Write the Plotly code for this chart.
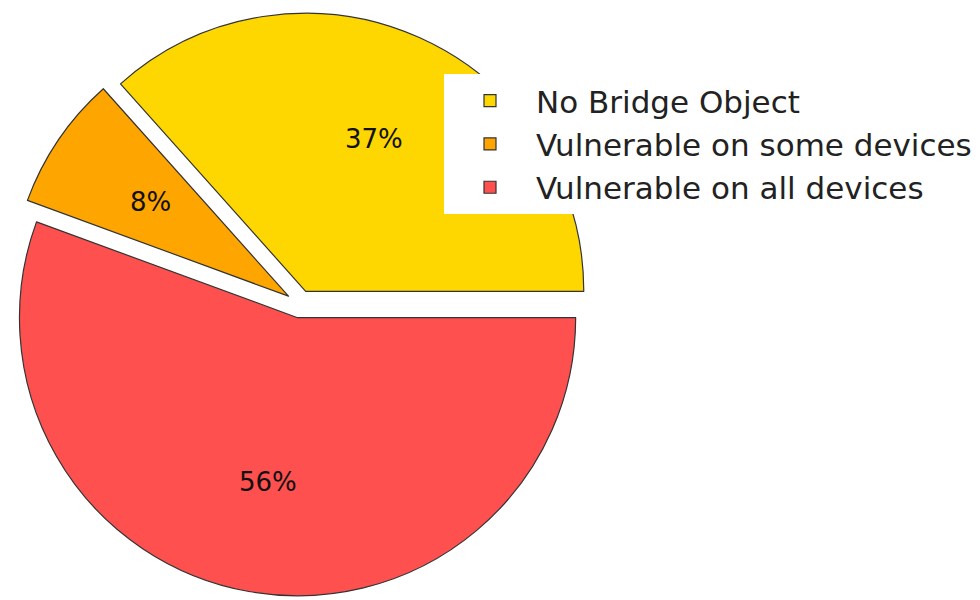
import math
import plotly.graph_objects as go

labels = ["No Bridge Object", "Vulnerable on some devices", "Vulnerable on all devices"]
values = [36.6, 7.8, 55.6]
colors = ["#FFD700", "#FFA500", "#FF5050"]
pulls = [0.05, 0.05, 0.05]

W, H = 980, 600
M = dict(l=0, r=0, t=0, b=0)
dom_x = [0, 584 / 980]
dom_y = [12 / 600, 596 / 600]
FONT = "DejaVu Sans"

total = sum(values)
rotation = 90 - 360 * values[0] / total  # first slice starts at 3 o'clock

fig = go.Figure(
    go.Pie(
        labels=labels,
        values=values,
        sort=False,
        direction="counterclockwise",
        rotation=rotation,
        pull=pulls,
        marker=dict(colors=colors, line=dict(color="#333333", width=1.2)),
        textinfo="none",
        domain=dict(x=dom_x, y=dom_y),
        hoverinfo="label+percent",
    )
)

# percentage labels placed at 0.6 of the radius (computed from the data)
pw = W - M["l"] - M["r"]
ph = H - M["t"] - M["b"]
r_px = min(pw * (dom_x[1] - dom_x[0]), ph * (dom_y[1] - dom_y[0])) / (2 + 2 * max(pulls))
cx = (dom_x[0] + dom_x[1]) / 2 * pw
cy = (1 - (dom_y[0] + dom_y[1]) / 2) * ph
ang = 0.0
annotations = []
for v, p in zip(values, pulls):
    span = 360 * v / total
    mid = math.radians(ang + span / 2)
    d = (p + 0.6) * r_px
    x = cx + d * math.cos(mid)
    y = cy - d * math.sin(mid)
    annotations.append(dict(
        x=x / pw, y=1 - y / ph, xref="paper", yref="paper",
        text=f"{round(100 * v / total)}%", showarrow=False,
        font=dict(family=FONT, size=26, color="#111111"),
        xanchor="center", yanchor="middle",
    ))
    ang += span

fig.update_layout(
    width=W, height=H,
    margin=M,
    paper_bgcolor="white",
    plot_bgcolor="white",
    font=dict(family=FONT),
    annotations=annotations,
    showlegend=True,
    legend=dict(
        x=436 / 980, y=1 - 66 / 600,
        xanchor="left", yanchor="top",
        bgcolor="white", borderwidth=0,
        font=dict(family=FONT, size=31, color="#222222"),
        itemwidth=82,
        traceorder="normal",
    ),
)

fig.write_html("out.html")
